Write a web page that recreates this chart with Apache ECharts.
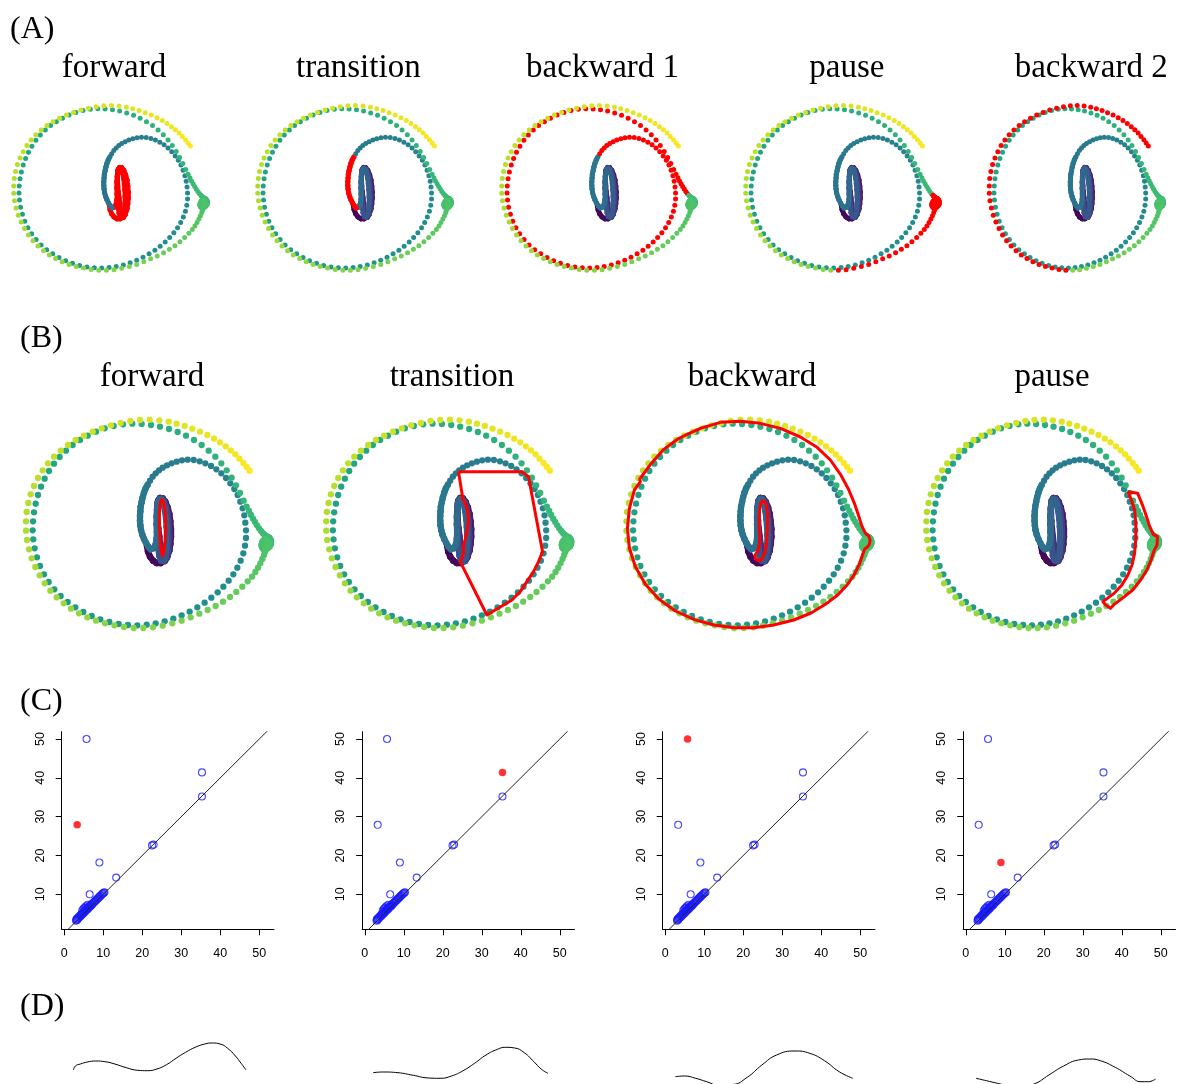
<!DOCTYPE html>
<html>
<head>
<meta charset="utf-8">
<script src="https://cdn.jsdelivr.net/npm/echarts@6/dist/echarts.min.js"></script>
<style>
  html, body { margin: 0; padding: 0; background: #ffffff; }
  #chart { width: 1177px; height: 1084px; }
</style>
</head>
<body>
<div id="chart"></div>
<script>
// ---- Delay-embedded trajectory, split into its phases (x right, y down) ----
const innerLoop = [
  [381,424],[384,440],[390,455],[399,467],[410,474],[422,474],[433,467],[442,454],[448,437],[451,417],
  [453,395],[453,372],[451,349],[448,327],[443,307],[436,290],[428,280],[420,279],[414,288],[412,305],
  [412,326],[413,348],[415,371],[418,395],[421,420],[424,444],[428,462],[435,468],
  [441,458],[445,440],[447,418],[448,395],[447,371],[445,348],[442,325],[438,305],[432,290],[425,281],
  [418,282],[413,294],[411,313],[410,335],[410,358],[411,382],[413,406],[415,430],[418,452],[423,466],[431,468],
  [437,456],[440,436],[441,413],[441,389],[440,365],[438,341],[435,318],[431,299],[426,286],[420,283],
  [415,291],[412,308],[411,330],[411,353],[411,377],[410,400],[407,418],[401,430]
];
const transitionArc = [
  [392,433],[385,425],[378,414],[372,402],[367,389],[363,375],[361,361],[360,347],[360,333],[361,319],
  [362,305],[365,291],[368,277],[372,263],[377,250],[383,239]
];
const spiralArc = [
  [390,227],[398,215],[407,205],[417,196],[428,188],[441,181],[455,175],[470,170],[486,166],[503,164],
  [521,165],[539,169],[556,175],[573,183],[589,193],[604,205],[618,219],[631,235],[643,252],[653,270],
  [661,290],[668,310],[673,331],[676,353],[678,376],[678,399],[675,422],[670,445],[662,467],[652,488],
  [640,508],[626,527],[610,545],[593,562],[574,578],[554,593],[532,607],[509,620],[485,631],[460,641],
  [434,649],[407,655],[380,659],[352,661],[324,660],[296,657],[268,651],[241,643],[215,633],[190,621],
  [166,607],[143,591],[122,573],[103,553],[86,531],[72,508],[60,483],[51,457],[44,430],[40,403],
  [38,376],[39,349],[42,322],[47,296],[54,270],[63,245],[74,221],[87,198],[102,176],[119,156],
  [138,137],[158,120],[180,105],[203,92],[228,80],[254,70],[281,63],[309,58],[337,56],[365,57],
  [393,60],[420,65],[447,72],[473,81],[498,92],[522,105],[545,120],[566,137],[586,155],[604,175],
  [620,196],[635,218],[648,241],[660,264],[671,287],[680,305],[687,318],[693,330],[699,341],[705,351],
  [711,361],[717,370],[723,378]
];
const pauseHook = [
  [729,385],[735,391],[741,395],[747,398],[751,403],[753,410],[752,418],[748,425],[742,430],[736,432],
  [730,431],[726,426],[725,419],[727,412],[731,406],[737,404],[742,408],[744,415],[742,423],[738,431],
  [735,440]
];
const pauseSweep = [
  [732,450],[727,462],[721,475],[714,488],[706,501],[696,515],[683,529],[667,545],[649,561],[630,576],
  [609,590],[587,603],[563,615],[538,626],[512,637],[485,647],[457,655],[428,662],[399,667],[370,669]
];
const outerRing = [
  [341,669],[312,666],[283,661],[255,655],[228,647],[202,637],[177,625],[153,611],[131,595],[110,577],
  [91,557],[74,535],[59,511],[46,486],[35,460],[27,433],[21,405],[18,377],[18,349],[20,321],
  [25,294],[32,268],[42,243],[54,219],[68,196],[84,175],[102,155],[122,137],[144,120],[167,105],
  [192,92],[218,80],[245,70],[273,61],[302,54],[331,48],[360,45],[389,44],[418,46],[446,50],
  [470,56],[494,63],[517,71],[540,80],[562,90],[582,101],[600,112],[617,124],[632,136],[646,148],
  [658,161],[670,174],[680,186],[689,197]
];

// ---- Cycle representatives (red loops of row B) ----
const cycleForward = [
  [425,280],[432,295],[436,320],[437,350],[437,380],[435,410],[432,435],[429,452],[425,445],[421,420],
  [419,390],[418,360],[418,330],[420,300],[425,280]
];
const cycleTransition = [
  [415,200],[605,200],[625,215],[667,440],[655,470],[640,500],[620,530],[600,560],[575,585],[550,600],
  [525,615],[500,630],[420,470],[427,455],[431,440],[429,425],[436,400],[441,375],[445,345],[442,318],
  [436,296],[428,282],[415,200]
];
const cycleBackward = [
  [300,52],[360,49],[420,55],[480,70],[540,96],[590,127],[630,165],[660,208],[684,252],[702,295],
  [714,330],[724,362],[735,385],[745,393],[749,405],[747,418],[741,426],[735,424],[733,432],[728,445],
  [718,475],[702,508],[680,540],[652,570],[615,598],[572,624],[520,645],[460,660],[400,668],[340,668],
  [280,660],[222,644],[165,618],[115,582],[75,538],[45,485],[27,430],[21,370],[27,310],[42,255],
  [60,230],[58,222],[92,176],[130,133],[172,102],[200,88],[240,70],[300,52]
];
const cycleBackwardCore = [
  [428,285],[438,298],[442,330],[441,370],[439,410],[434,440],[426,460],[416,468],[405,462],[404,450],
  [412,438],[417,420],[418,395],[416,370],[416,340],[418,310],[422,292],[428,285]
];
const cyclePause = [
  [655,260],[686,265],[700,298],[712,330],[722,360],[735,388],[748,395],[747,420],[738,436],[728,465],
  [715,495],[695,525],[670,555],[640,578],[612,598],[600,610],[585,600],[576,590],[610,566],[636,540],
  [655,510],[668,480],[676,445],[680,400],[680,355],[676,315],[666,285],[655,260]
];

// ---- Persistence diagram (birth, death) ----
const births = [5.7,35.3,35.3,3.3,22.5,22.9,9.0,13.3,6.5,4.9,3.2,
  3.0,3.1,3.3,3.5,3.6,3.8,3.9,4.1,4.2,4.4,4.5,4.7,4.8,5.0,5.1,5.3,5.4,5.6,5.7,5.9,6.0,6.2,6.3,6.5,
  6.6,6.8,6.9,7.1,7.3,7.5,7.7,7.9,8.1,8.3,8.5,8.7,8.9,9.1,9.3,9.5,9.7,9.9,10.1,10.3,5.2,5.5,6.0,4.6];
const deaths = [50.0,41.4,35.2,27.9,22.6,22.8,18.2,14.3,10.0,6.3,3.7,
  3.2,3.5,3.4,3.8,4.1,4.0,4.4,4.3,4.7,4.6,5.0,4.9,5.3,5.2,5.6,5.5,5.9,5.9,6.2,6.1,6.5,6.4,6.8,6.8,
  7.1,7.0,7.4,7.3,7.7,7.8,8.1,8.2,8.5,8.6,8.9,9.0,9.3,9.4,9.7,9.8,10.1,10.2,10.4,10.5,6.5,6.9,7.3,5.8];
const selectedPair = [3, 1, 0, 6];
const diagTicks = [0, 10, 20, 30, 40, 50];

// ---- Curves of row D (x offset, height) ----
const curveForward = [[11.5,14],[13.4,18],[18.4,20],[25.3,22],[33.7,23],[43.2,22.3],[52.8,20],[64.3,16.3],
  [75.8,13.7],[85.3,13.3],[94.9,15],[104.5,19.3],[114,25.7],[123.6,31.7],[133.2,36.7],[142.7,40],
  [150.4,41],[158.1,40],[165.7,35.7],[173.4,28],[179.1,20.7],[184.1,14]];
const curveTransition = [[10.6,11.3],[20.2,12],[35.5,11.3],[50.8,8.7],[66.1,6],[77.6,5.7],[89.1,8],
  [100.6,13.3],[112.1,20.7],[123.5,29],[135,34.7],[142.7,36.7],[152.2,36],[161.8,31.3],[171.4,22.3],
  [179,14.7],[185.5,10.7]];
const curveBackward = [[12.4,7.3],[21.6,8],[32.7,5.7],[43.7,2.3],[54.8,-1],[69.5,-0.5],[84.2,6.7],
  [98.9,19],[113.6,29],[132,33],[146.7,30.7],[161.5,23.3],[176.2,12.3],[189.8,5.7]];
const curvePause = [[12.6,5.7],[22.9,3.3],[33.9,0.7],[41.3,-1],[55,-3.5],[70.7,0],[85.4,9],[100.1,18],
  [114.9,24],[125.9,25],[136.9,23.3],[151.7,16.7],[166.4,8],[177.4,2.3],[184.8,2.3],[192.1,5]];

const titlesA = ['forward', 'transition', 'backward 1', 'pause', 'backward 2'];
const titlesB = ['forward', 'transition', 'backward', 'pause'];

// ---- colour scale ----
const viridisStops = ['#440154','#482475','#414487','#355f8d','#2a788e','#21918c','#22a884','#44bf70','#7ad151','#bddf26','#fde725'];
function hexRgb(h) { return [parseInt(h.slice(1,3),16), parseInt(h.slice(3,5),16), parseInt(h.slice(5,7),16)]; }
const viridisRgb = viridisStops.map(hexRgb);
function viridis(t) {
  t = Math.max(0, Math.min(1, t));
  const s = t * 10, i = Math.min(9, Math.floor(s)), f = s - i;
  const a = viridisRgb[i], b = viridisRgb[i + 1];
  return 'rgb(' + a.map((v, k) => Math.round(v + (b[k] - v) * f)).join(',') + ')';
}

// phases of the trajectory with their position on the colour scale
const phases = [
  { pts: innerLoop,     t0: 0.00, t1: 0.36, join: true },
  { pts: transitionArc, t0: 0.37, t1: 0.40, join: true },
  { pts: spiralArc,     t0: 0.40, t1: 0.68, join: false },
  { pts: pauseHook,     t0: 0.68, t1: 0.72, join: true },
  { pts: pauseSweep,    t0: 0.72, t1: 0.82, join: false },
  { pts: outerRing,     t0: 0.82, t1: 1.00, join: false }
];
const highlightA = [[0], [1], [2], [3, 4], [5]];

const track = [];
let prev = null;
phases.forEach((ph, si) => {
  const n = ph.pts.length;
  ph.pts.forEach((p, j) => {
    const t = ph.t0 + (ph.t1 - ph.t0) * (n > 1 ? j / (n - 1) : 0);
    const linked = ph.join && prev && j > 0;
    const q = linked ? prev : p;
    track.push([p[0], p[1], t, q[0], q[1], linked ? 1 : 0, si]);
    prev = p;
  });
});

function trackRenderer(r, highlight) {
  return function (params, api) {
    const p = api.coord([api.value(0), api.value(1)]);
    const col = highlight.indexOf(api.value(6)) >= 0 ? '#ff0000' : viridis(api.value(2));
    const children = [];
    if (api.value(5)) {
      const q = api.coord([api.value(3), api.value(4)]);
      children.push({ type: 'line', shape: { x1: q[0], y1: q[1], x2: p[0], y2: p[1] },
        style: { stroke: col, lineWidth: 2 * r, lineCap: 'round' } });
    }
    children.push({ type: 'circle', shape: { cx: p[0], cy: p[1], r: r }, style: { fill: col } });
    return { type: 'group', children: children };
  };
}

const grids = [], xAxes = [], yAxes = [], series = [], graphics = [];
const serif = '"Liberation Serif", "DejaVu Serif", serif';
const sans = '"Liberation Sans", Arial, sans-serif';

function addTrajectoryPanel(left, top, w, h, r, highlight) {
  const gi = grids.length;
  grids.push({ left: left, top: top, width: w, height: h });
  xAxes.push({ type: 'value', gridIndex: gi, min: 0, max: 810, show: false });
  yAxes.push({ type: 'value', gridIndex: gi, min: 0, max: 705, inverse: true, show: false });
  series.push({
    type: 'custom', xAxisIndex: gi, yAxisIndex: gi, data: track,
    encode: { x: 0, y: 1 }, renderItem: trackRenderer(r, highlight), silent: true, animation: false
  });
  return gi;
}

// Row A
const scaleA = 0.79;
titlesA.forEach((name, k) => {
  addTrajectoryPanel(9 + 244 * k, 94, 270 * scaleA, 235 * scaleA, 2.5, highlightA[k]);
  graphics.push({ type: 'text', x: 114 + 244.3 * k, y: 68,
    style: { text: name, font: '33px ' + serif, fill: '#000', textAlign: 'center', textVerticalAlign: 'middle' } });
});

// Row B
const cyclesB = [[cycleForward], [cycleTransition], [cycleBackward, cycleBackwardCore], [cyclePause]];
titlesB.forEach((name, k) => {
  const gi = addTrajectoryPanel(20 + 300.2 * k, 405, 270, 235, 3.15, []);
  cyclesB[k].forEach(cyc => {
    series.push({ type: 'line', xAxisIndex: gi, yAxisIndex: gi, data: cyc, symbol: 'none',
      lineStyle: { color: '#ff0000', width: 3, join: 'round' }, silent: true, animation: false });
  });
  graphics.push({ type: 'text', x: 152 + 300 * k, y: 377,
    style: { text: name, font: '33px ' + serif, fill: '#000', textAlign: 'center', textVerticalAlign: 'middle' } });
});

// Row C
const pairs = births.map((b, i) => [b, deaths[i]]);
const diagonal = [[0, 0], [60, 60]];
for (let k = 0; k < 4; k++) {
  const gi = grids.length;
  const left = 61.7 + 300.5 * k;
  grids.push({ left: left, top: 731.7, width: 212.3, height: 197.6 });
  const axisCommon = {
    type: 'value', gridIndex: gi, splitLine: { show: false },
    axisLine: { show: true, onZero: false, lineStyle: { color: '#000', width: 1 } },
    axisTick: { show: true, customValues: diagTicks, length: 6, lineStyle: { color: '#000', width: 1 } },
    axisLabel: { customValues: diagTicks, fontSize: 12.5, color: '#000', fontFamily: sans, margin: 18 }
  };
  xAxes.push(Object.assign({}, axisCommon, { min: -0.67, max: 53.77 }));
  yAxes.push(Object.assign({}, axisCommon, { min: 0.99, max: 51.88,
    axisLabel: Object.assign({}, axisCommon.axisLabel, { rotate: 90, margin: 15 }) }));
  series.push({ type: 'line', xAxisIndex: gi, yAxisIndex: gi, data: diagonal, symbol: 'none', clip: true,
    lineStyle: { color: '#222', width: 1 }, silent: true, animation: false });
  series.push({ type: 'scatter', xAxisIndex: gi, yAxisIndex: gi,
    data: pairs.filter((p, i) => i !== selectedPair[k]), symbol: 'circle', symbolSize: 7,
    itemStyle: { color: 'rgba(0,0,0,0)', borderColor: '#1a1aff', borderWidth: 1.1 }, silent: true, animation: false });
  series.push({ type: 'scatter', xAxisIndex: gi, yAxisIndex: gi,
    data: [pairs[selectedPair[k]]], symbol: 'circle', symbolSize: 7.5,
    itemStyle: { color: '#ff0000' }, silent: true, animation: false });
}

// Row D (grid bottom on the page edge; the lower part of each curve runs off the page)
const curvesD = [curveForward, curveTransition, curveBackward, curvePause];
curvesD.forEach((cv, k) => {
  const gi = grids.length;
  grids.push({ left: 62 + 300.5 * k, top: 1024, width: 212, height: 60 });
  xAxes.push({ type: 'value', gridIndex: gi, min: 0, max: 212, show: false });
  yAxes.push({ type: 'value', gridIndex: gi, min: 0, max: 60, show: false });
  series.push({ type: 'line', xAxisIndex: gi, yAxisIndex: gi, data: cv, symbol: 'none', smooth: 0.5,
    clip: false, lineStyle: { color: '#000', width: 1 }, silent: true, animation: false });
});

// Row labels
[['(A)', 10, 30], ['(B)', 20, 339], ['(C)', 20, 702], ['(D)', 20, 1007]].forEach(l => {
  graphics.push({ type: 'text', x: l[1], y: l[2],
    style: { text: l[0], font: '32px ' + serif, fill: '#000', textAlign: 'left', textVerticalAlign: 'middle' } });
});

const chart = echarts.init(document.getElementById('chart'), null, { renderer: 'canvas' });
chart.setOption({
  backgroundColor: '#ffffff',
  animation: false,
  grid: grids, xAxis: xAxes, yAxis: yAxes, series: series, graphic: graphics
});
</script>
</body>
</html>
